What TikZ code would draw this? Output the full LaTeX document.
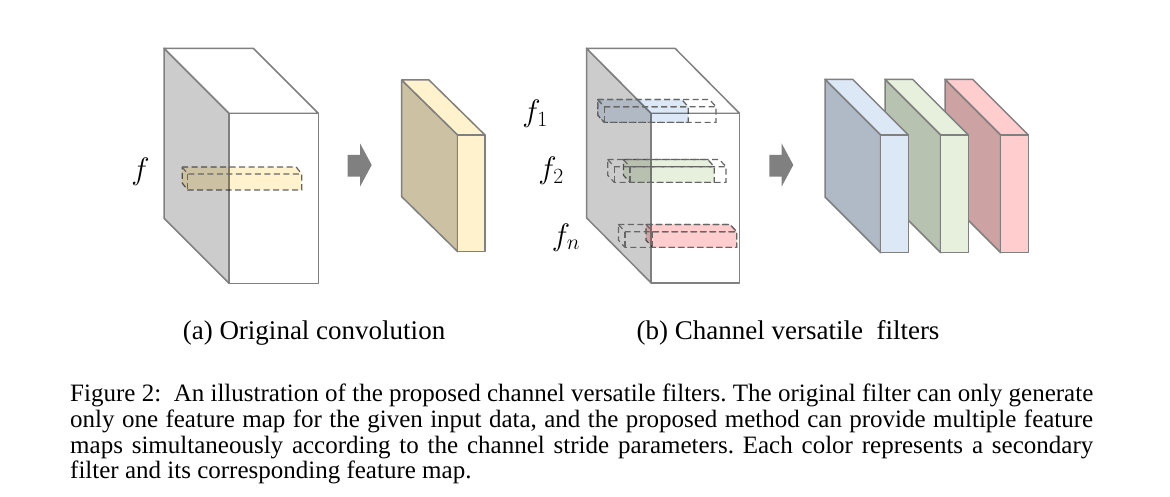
\RequirePackage{fix-cm}
\documentclass[tikz,border=0pt]{standalone}
\usepackage[no-math]{fontspec}
\setmainfont{Liberation Serif}
\usepackage{tikz}
\definecolor{edgegray}{HTML}{808080}
\definecolor{dashgray}{HTML}{666666}
\definecolor{sidegray}{HTML}{CCCCCC}
\definecolor{arrowgray}{HTML}{808080}
\definecolor{yelfront}{HTML}{FFF2CC}
\definecolor{yelside}{HTML}{CCC2A3}
\definecolor{bluefront}{HTML}{DCE8F6}
\definecolor{blueside}{HTML}{B0BAC6}
\definecolor{greenfront}{HTML}{E6F0DD}
\definecolor{greenside}{HTML}{B8C2B0}
\definecolor{redfront}{HTML}{FFCDCD}
\definecolor{redside}{HTML}{CCA2A2}
\tikzset{%
  myedge/.style={draw=edgegray, line width=1.5pt, line join=round},
  mydash/.style={draw=dashgray, line width=1.2pt, dash pattern=on 6pt off 3.5pt},
  myarrow/.style={fill=arrowgray},
  mylabel/.style={anchor=base, inner sep=0pt, font=\fontsize{31}{36}\selectfont},
  subcap/.style={anchor=base, inner sep=0pt, font=\fontsize{27}{32}\selectfont}
}
% front corner x, y, width, height, depth x, depth y, front, side, top
\newcommand{\mycuboid}[9]{%
  \draw[myedge, fill=#8] (#1,#2) -- ++(-#5,-#6) -- ++(0,#4) -- ++(#5,#6) -- cycle;
  \draw[myedge, fill=#9] (#1,#2) -- ++(-#5,-#6) -- ++(#3,0) -- ++(#5,#6) -- cycle;
  \draw[myedge, fill=#7] (#1,#2) rectangle ++(#3,#4);
}
\newcommand{\myfilter}[7]{%
  \path[#7] (#1,#2) ++(-#5,-#6) -- ++(#3,0) -- (#1+#3,#2) -- ++(0,#4) -- ++(-#3,0) -- ++(-#5,-#6) -- cycle;
  \draw[mydash] (#1,#2) ++(-#5,-#6) -- (#1,#2) -- ++(#3,0);
  \draw[mydash] (#1,#2) -- ++(0,#4);
}

\begin{document}
\frenchspacing
\begin{tikzpicture}[x=1pt, y=-1pt]
\useasboundingbox (0,0) rectangle (1170,497);

% (a)
\mycuboid{229}{113.3}{89.3}{170}{65}{65}{white}{sidegray}{white}
\myfilter{187.7}{174}{114}{16}{5.5}{7}{mydash, fill=yelfront, blend mode=multiply}
\mycuboid{457.7}{135}{27.3}{116.7}{56}{55}{yelfront}{yelside}{yelfront}

\foreach \ax in {347.7, 769.3} {
  \fill[myarrow] (\ax,155) -- ++(12.3,0) -- ++(0,-11.7) -- ++(11.7,21.7)
    -- ++(-11.7,21.7) -- ++(0,-10) -- ++(-12.3,0) -- cycle;
}

% (b)
\mycuboid{651}{113.3}{88.5}{169.5}{64.5}{65}{white}{sidegray}{white}
\myfilter{604.3}{106.7}{84}{15.7}{6.6}{7.2}{mydash, fill=bluefront, blend mode=multiply}
\myfilter{604.3}{106.7}{111.7}{15.7}{6.6}{7.2}{mydash}
\myfilter{630}{166.7}{84.3}{15.7}{6.6}{7.2}{mydash, fill=greenfront, blend mode=multiply}
\myfilter{614.3}{166.7}{111.7}{15.7}{6.6}{7.2}{mydash}
\myfilter{652.6}{231.7}{84}{15.7}{6.6}{7.2}{mydash, fill=redfront, blend mode=multiply}
\myfilter{625}{231.7}{111.7}{15.7}{6.6}{7.2}{mydash}

\foreach \sx/\fc/\sc in {1000.7/redfront/redside, 940.7/greenfront/greenside, 880.7/bluefront/blueside} {
  \mycuboid{\sx}{135}{27.6}{117.7}{55.7}{55.7}{\fc}{\sc}{\fc}
}

\node (lblf) [mylabel] at (140.5,179.6) {$f$};
\node (lblfa) [mylabel] at (535,122) {$f_1$};
\node (lblfb) [mylabel] at (551,178.7) {$f_2$};
\node (lblfn) [mylabel] at (566,245) {$f_n$};

\node (capa) [subcap] at (314,339.3) {(a) Original convolution};
\node (capb) [subcap] at (788,339.3) {(b) Channel versatile\ \ filters};

\node (figcap) [anchor=base west, inner sep=0pt, text width=1023pt, align=justify,
  font=\fontsize{25}{25.7}\selectfont] at (70,401.7)
  {Figure 2:\ \ An illustration of the proposed channel versatile filters. The original filter can only generate\linebreak
   only one feature map for the given input data, and the proposed method can provide multiple feature\linebreak
   maps simultaneously according to the channel stride parameters. Each color represents a secondary\linebreak
   filter and its corresponding feature map.};
\end{tikzpicture}
\end{document}
